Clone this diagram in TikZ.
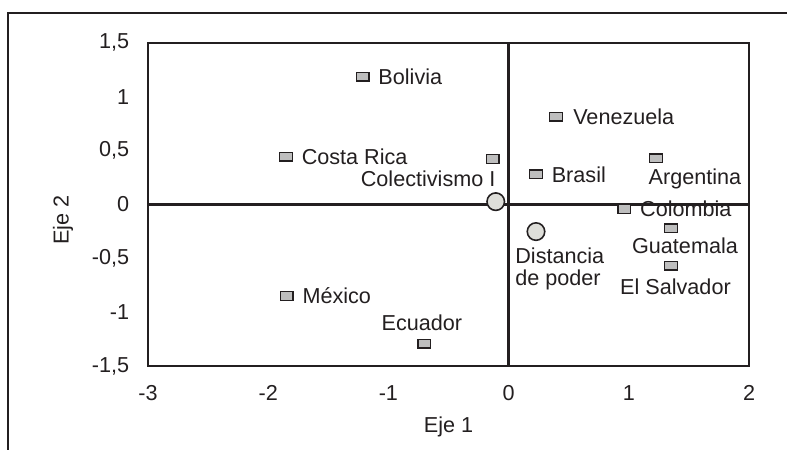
\documentclass[tikz,border=0pt]{standalone}
\usepackage{fontspec}
\setmainfont{Liberation Sans}
\usetikzlibrary{positioning}
\definecolor{ink}{RGB}{35,31,32}
\definecolor{boxgray}{RGB}{190,190,190}
\definecolor{dotgray}{RGB}{222,222,217}

\begin{document}
\begin{tikzpicture}[x=2.404cm, y=2.1534cm,
  every node/.style={font=\fontsize{12.3}{12.8}\selectfont, text=ink, inner sep=0pt},
  axis/.style={draw=ink, line width=1.4pt},
  country/.style={draw=ink, fill=boxgray, line width=0.8pt, minimum width=0.25cm, minimum height=0.17cm},
  factor/.style={circle, draw=ink, fill=dotgray, line width=0.9pt, minimum size=0.35cm}]

  \useasboundingbox (-4.2313,-2.2795) rectangle (2.3161,1.8988);

  % Frame
  \draw[axis] (-4.165,-2.5) -- (-4.165,1.779) -- (2.5,1.779);

  % Plot area and axes
  \draw[axis] (-3,-1.5) rectangle (2,1.5);
  \draw[axis] (-3,0) -- (2,0);
  \draw[axis] (0,-1.5) -- (0,1.5);

  % Tick labels
  \node[left=0.37cm] (y15) at (-3,1.5) {1,5};
  \node[left=0.37cm] (y10) at (-3,1) {1};
  \node[left=0.37cm] (y05) at (-3,0.5) {0,5};
  \node[left=0.37cm] (y00) at (-3,0) {0};
  \node[left=0.37cm] (ym05) at (-3,-0.5) {-0,5};
  \node[left=0.37cm] (ym10) at (-3,-1) {-1};
  \node[left=0.37cm] (ym15) at (-3,-1.5) {-1,5};

  \node[below=0.38cm] (xm3) at (-3,-1.5) {-3};
  \node[below=0.38cm] (xm2) at (-2,-1.5) {-2};
  \node[below=0.38cm] (xm1) at (-1,-1.5) {-1};
  \node[below=0.38cm] (x0) at (0,-1.5) {0};
  \node[below=0.38cm] (x1) at (1,-1.5) {1};
  \node[below=0.38cm] (x2) at (2,-1.5) {2};

  % Axis titles
  \node (eje1) at (-0.5,-2.062) {Eje 1};
  \node[rotate=90] (eje2) at (-3.707,-0.144) {Eje 2};

  % Countries
  \node[country] (bol) at (-1.214,1.187) {};
  \node[country] (cri) at (-1.852,0.444) {};
  \node[country] (mex) at (-1.846,-0.850) {};
  \node[country] (ecu) at (-0.701,-1.295) {};
  \node[country] (ven) at (0.394,0.815) {};
  \node[country] (otr) at (-0.132,0.422) {};
  \node[country] (bra) at (0.228,0.280) {};
  \node[country] (arg) at (1.226,0.429) {};
  \node[country] (clb) at (0.963,-0.042) {};
  \node[country] (gua) at (1.351,-0.221) {};
  \node[country] (slv) at (1.351,-0.571) {};

  % Dimensions
  \node[factor] (col) at (-0.107,0.026) {};
  \node[factor] (dpod) at (0.228,-0.252) {};

  % Labels
  \node[right=0.17cm of bol] (lbol) {Bolivia};
  \node[right=0.17cm of cri] (lcri) {Costa Rica};
  \node[right=0.17cm of mex] (lmex) {México};
  \node[above=0.15cm of ecu, xshift=-0.05cm] (lecu) {Ecuador};
  \node[right=0.2cm of ven] (lven) {Venezuela};
  \node[right=0.17cm of bra] (lbra) {Brasil};
  \node[below=0.11cm of arg, xshift=0.78cm] (larg) {Argentina};
  \node[right=0.17cm of clb] (lclb) {Colombia};
  \node[below=0.09cm of gua, xshift=0.28cm] (lgua) {Guatemala};
  \node[below=0.16cm of slv, xshift=0.09cm] (lslv) {El Salvador};
  \node[above=0.1cm of col, anchor=south east] (lcol) {Colectivismo I};
  \node[below=0.12cm of dpod, anchor=north west, xshift=-0.42cm, align=left] (ldpod) {Distancia\\de poder};

\end{tikzpicture}
\end{document}
